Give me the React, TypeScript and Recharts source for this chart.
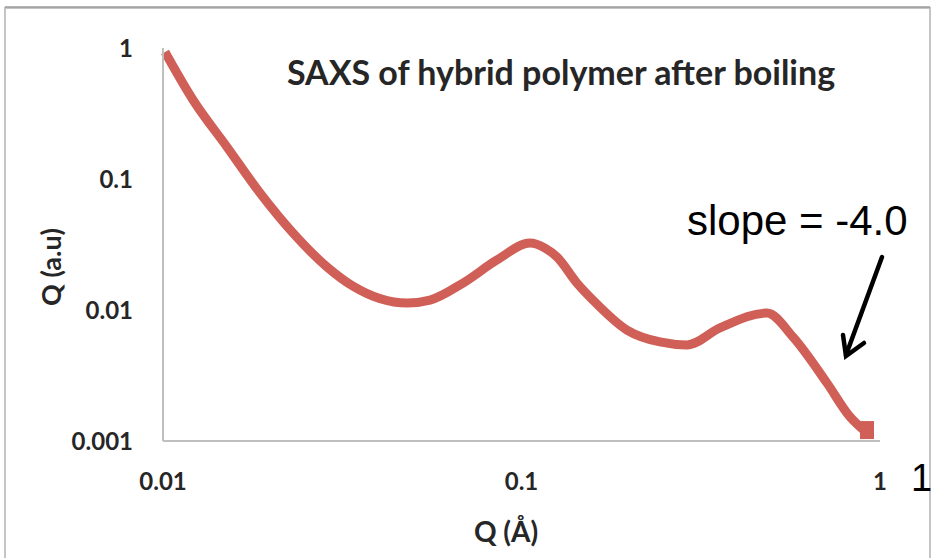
import React from 'react';
import { LineChart, Line, XAxis, YAxis } from 'recharts';

// SAXS curve: q (1/Å) against intensity (a.u.)
const qValues = [0.01013, 0.01213, 0.01509, 0.01865, 0.02305, 0.02868, 0.03388, 0.04793, 0.05556, 0.06867, 0.08544, 0.1056, 0.1163, 0.1256, 0.1428, 0.1582, 0.1969, 0.2433, 0.2893, 0.3578, 0.484, 0.5719, 0.7113, 0.8246, 0.914];
const intensity = [0.932, 0.401, 0.1754, 0.0782, 0.0387, 0.0213, 0.0152, 0.0113, 0.01191, 0.01606, 0.02409, 0.03245, 0.0297, 0.0254, 0.01606, 0.01191, 0.00703, 0.0057, 0.00541, 0.00729, 0.00948, 0.00622, 0.00277, 0.00153, 0.00117];
const xTicks = [0.01, 0.1, 1];
const yTicks = [0.001, 0.01, 0.1, 1];

const data = qValues.map((q, i) => ({ q, I: intensity[i] }));
const CURVE = '#cf5f57';
const AXIS = '#bfbfbf';
const FONT = 'Lato, sans-serif';
const tickStyle = { fill: '#262626', fontSize: 24, fontWeight: 700, fontFamily: FONT };

const EndDot = (props: any) => {
  const { cx, cy, index } = props;
  if (index !== data.length - 1) return <g key={`d-${index}`} />;
  return <rect key={`d-${index}`} x={cx - 6} y={cy - 11} width={14} height={18} fill={CURVE} />;
};

export default function App() {
  return (
    <div style={{ position: 'absolute', left: 0, top: 0, width: 933, height: 558, background: '#fff', overflow: 'hidden' }}>
      <LineChart width={933} height={558} data={data} margin={{ top: 48, right: 53, bottom: 57, left: 0 }}>
        <XAxis dataKey="q" type="number" scale="log" domain={[0.01, 1]} ticks={xTicks} tickFormatter={(v) => String(v)}
          tick={tickStyle} tickLine={false} tickSize={0} tickMargin={32} height={60}
          axisLine={{ stroke: AXIS, strokeWidth: 2 }} />
        <YAxis type="number" scale="log" domain={[0.001, 1]} ticks={yTicks} tickFormatter={(v) => String(v)}
          tick={tickStyle} tickLine={false} tickSize={0} tickMargin={30} width={163}
          axisLine={{ stroke: AXIS, strokeWidth: 2 }} />
        <Line dataKey="I" type="monotone" stroke={CURVE} strokeWidth={9} dot={EndDot} isAnimationActive={false} />
      </LineChart>
      <svg width={933} height={558} style={{ position: 'absolute', left: 0, top: 0, pointerEvents: 'none' }}>
        <rect x={5} y={8} width={925} height={560} fill="none" stroke="#c4c4c4" strokeWidth={2} />
        <line x1={5} y1={7} x2={930} y2={7} stroke="#9a9a9a" strokeWidth={1.5} />
        <text x={561} y={85} textAnchor="middle" fontFamily={FONT} fontWeight={700} fontSize={34} fill="#262626">SAXS of hybrid polymer after boiling</text>
        <text x={506} y={542} textAnchor="middle" fontFamily={FONT} fontWeight={700} fontSize={28} fill="#262626">Q (Å)</text>
        <text x={0} y={0} transform="translate(61 267) rotate(-90)" textAnchor="middle" fontFamily={FONT} fontWeight={700} fontSize={27} fill="#262626">Q (a.u)</text>
        <text x={687} y={235} fontFamily="'Liberation Sans', Arial, sans-serif" fontSize={42} fill="#000">slope = -4.0</text>
        <text x={911} y={491} fontFamily="'Liberation Sans', Arial, sans-serif" fontSize={38} fill="#000">1</text>
        <g stroke="#000" strokeWidth={4.5} strokeLinecap="round" fill="none">
          <line x1={882} y1={257} x2={846} y2={355} />
          <polyline points="843,335 846,356 864,343" />
        </g>
      </svg>
    </div>
  );
}
